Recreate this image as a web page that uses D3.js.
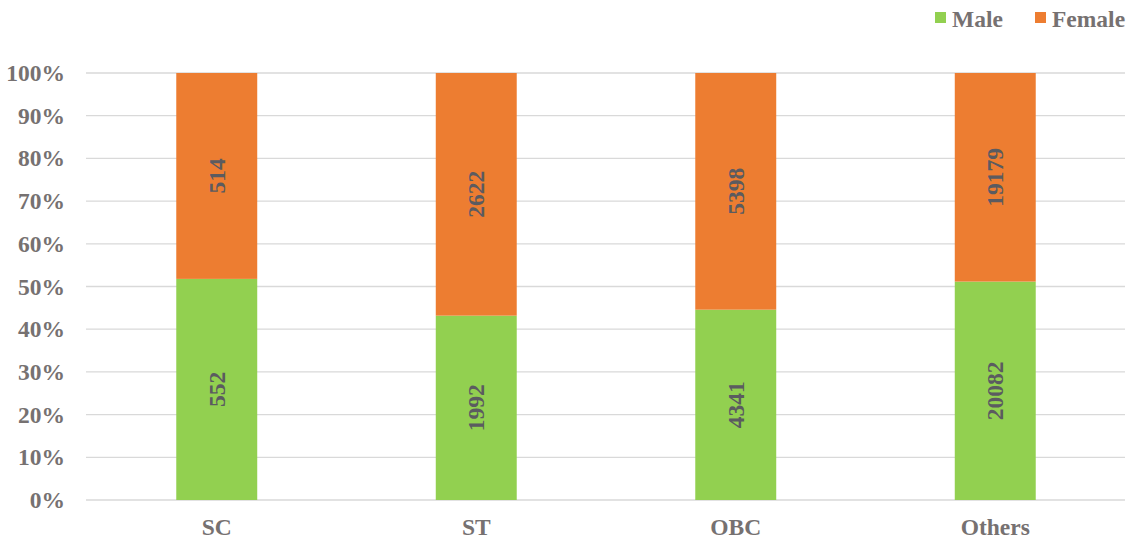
<!DOCTYPE html>
<html><head><meta charset="utf-8">
<script src="https://cdn.jsdelivr.net/npm/d3@7"></script>
<style>body{margin:0;background:#fff}svg{display:block}</style>
</head><body>
<svg id="c" width="1141" height="540"></svg>
<script>
const categories = ["SC","ST","OBC","Others"];
const male = [552,1992,4341,20082];
const female = [514,2622,5398,19179];
const seriesNames = ["Male","Female"];
const colors = ["#92D050","#ED7D31"];
const yTicks = [0,0.1,0.2,0.3,0.4,0.5,0.6,0.7,0.8,0.9,1.0];

const svg = d3.select("#c");
const font = "'Liberation Serif','Times New Roman',serif";
const x = d3.scaleBand().domain(categories).range([87,1125]).paddingInner(0.688).paddingOuter(0.344);
const y = d3.scaleLinear().domain([0,1]).range([500,73]);

// grid
svg.append("g").selectAll("line").data(yTicks).join("line")
  .attr("x1",86).attr("x2",1125).attr("y1",d=>y(d)).attr("y2",d=>y(d))
  .attr("stroke","#D9D9D9").attr("stroke-width",1.3);

// y axis labels
const yAxis = d3.axisLeft(y).tickValues(yTicks).tickFormat(d3.format(".0%")).tickSize(0).tickPadding(0);
const ya = svg.append("g").attr("transform","translate(65,0)").call(yAxis);
ya.select(".domain").remove();
ya.selectAll("text").attr("font-family",font).attr("font-weight","bold").attr("font-size",23.5).attr("fill","#767171");

// x axis labels
const xAxis = d3.axisBottom(x).tickSize(0).tickPadding(0);
const xa = svg.append("g").attr("transform","translate(0,518)").call(xAxis);
xa.select(".domain").remove();
xa.selectAll("text").attr("font-family",font).attr("font-weight","bold").attr("font-size",23.5).attr("fill","#767171");

const data = categories.map((c,i)=>({c, m:male[i], f:female[i], t:male[i]+female[i]}));
const stack = d3.stack().keys(["m","f"]).value((d,k)=>d[k]/d.t);
const layers = stack(data);

layers.forEach((layer,li)=>{
  const g = svg.append("g");
  g.selectAll("rect").data(layer).join("rect")
    .attr("x",d=>x(d.data.c)).attr("width",x.bandwidth())
    .attr("y",d=>y(d[1])).attr("height",d=>y(d[0])-y(d[1]))
    .attr("fill",colors[li]);
  g.selectAll("text").data(layer).join("text")
    .attr("transform",d=>`translate(${x(d.data.c)+x.bandwidth()/2},${(y(d[0])+y(d[1]))/2}) rotate(-90)`)
    .attr("text-anchor","middle").attr("dy","0.35em")
    .attr("font-family",font).attr("font-weight","bold").attr("font-size",23.5).attr("fill","#5B5B60")
    .text(d=>li===0?d.data.m:d.data.f);
});

// legend
const legX = [935,1035];
const lg = svg.append("g");
seriesNames.forEach((n,i)=>{
  lg.append("rect").attr("x",legX[i]).attr("y",12).attr("width",11).attr("height",11).attr("fill",colors[i]);
  lg.append("text").attr("x",legX[i]+17).attr("y",26.5).attr("font-family",font).attr("font-weight","bold")
    .attr("font-size",23.5).attr("fill","#767171").text(n);
});
</script>
</body></html>
